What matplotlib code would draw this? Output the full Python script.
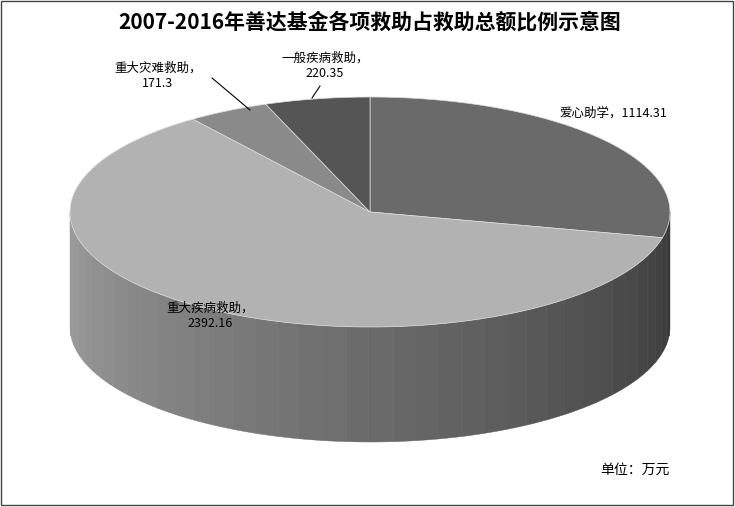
import numpy as np
import matplotlib
matplotlib.use("Agg")
import matplotlib.pyplot as plt

plt.rcParams['font.family'] = ['Noto Sans CJK SC', 'DejaVu Sans']

categories = ["爱心助学", "重大疾病救助", "重大灾难救助", "一般疾病救助"]
values = [1114.31, 2392.16, 171.3, 220.35]
colors = ["#6a6a6a", "#b2b2b2", "#8a8a8a", "#555555"]
label_text = ["爱心助学，1114.31", "重大疾病救助，\n2392.16", "重大灾难救助，\n171.3", "一般疾病救助，\n220.35"]

fig = plt.figure(figsize=(7.35, 5.07), dpi=100)
ax = fig.add_axes([0, 0, 1, 1])
ax.set_xlim(0, 735); ax.set_ylim(507, 0); ax.axis('off')

cx, cy, rx, ry, depth = 370, 212, 300, 115, 115
def pt(a):
    return cx + rx*np.cos(a), cy - ry*np.sin(a)

total = sum(values)
angs = [np.pi/2]
for v in values:
    angs.append(angs[-1] - 2*np.pi*v/total)

# side (front half: angles from pi to 2pi i.e. -pi..0)
n = 40
edges = np.linspace(-np.pi, 0, n+1)
for i in range(n):
    a0, a1 = edges[i], edges[i+1]
    t = (i + 0.5)/n
    g = 0.62 - 0.40*t
    xs = []; ys = []
    for a in np.linspace(a0, a1, 6):
        x, y = pt(a); xs.append(x); ys.append(y)
    for a in np.linspace(a1, a0, 6):
        x, y = pt(a); xs.append(x); ys.append(y+depth)
    ax.fill(xs, ys, color=(g, g, g), lw=0.3, ec=(g-0.03, g-0.03, g-0.03))

# top
for i in range(len(values)):
    a = np.linspace(angs[i], angs[i+1], 100)
    xs = [cx] + list(cx + rx*np.cos(a)) + [cx]
    ys = [cy] + list(cy - ry*np.sin(a)) + [cy]
    ax.fill(xs, ys, color=colors[i], lw=0.5, ec="#dddddd")

fs = 9
ax.text(560, 113, label_text[0], fontsize=fs, va='center')
ax.text(210, 316, label_text[1], fontsize=fs, va='center', ha='center')
ax.text(158, 76, label_text[2], fontsize=fs, va='center', ha='center')
ax.text(325, 66, label_text[3], fontsize=fs, va='center', ha='center')
ax.plot([212, 250], [78, 110], color='black', lw=0.8)
ax.plot([320, 312], [86, 98], color='black', lw=0.8)

ax.text(370, 22, "2007-2016年善达基金各项救助占救助总额比例示意图", fontsize=15,
        fontweight='bold', ha='center', va='center')
ax.text(635, 470, "单位：万元", fontsize=10, ha='center', va='center')
ax.add_patch(plt.Rectangle((1, 1), 732, 504, fill=False, ec='#444444', lw=1))

fig.savefig("out.png", dpi=100)
